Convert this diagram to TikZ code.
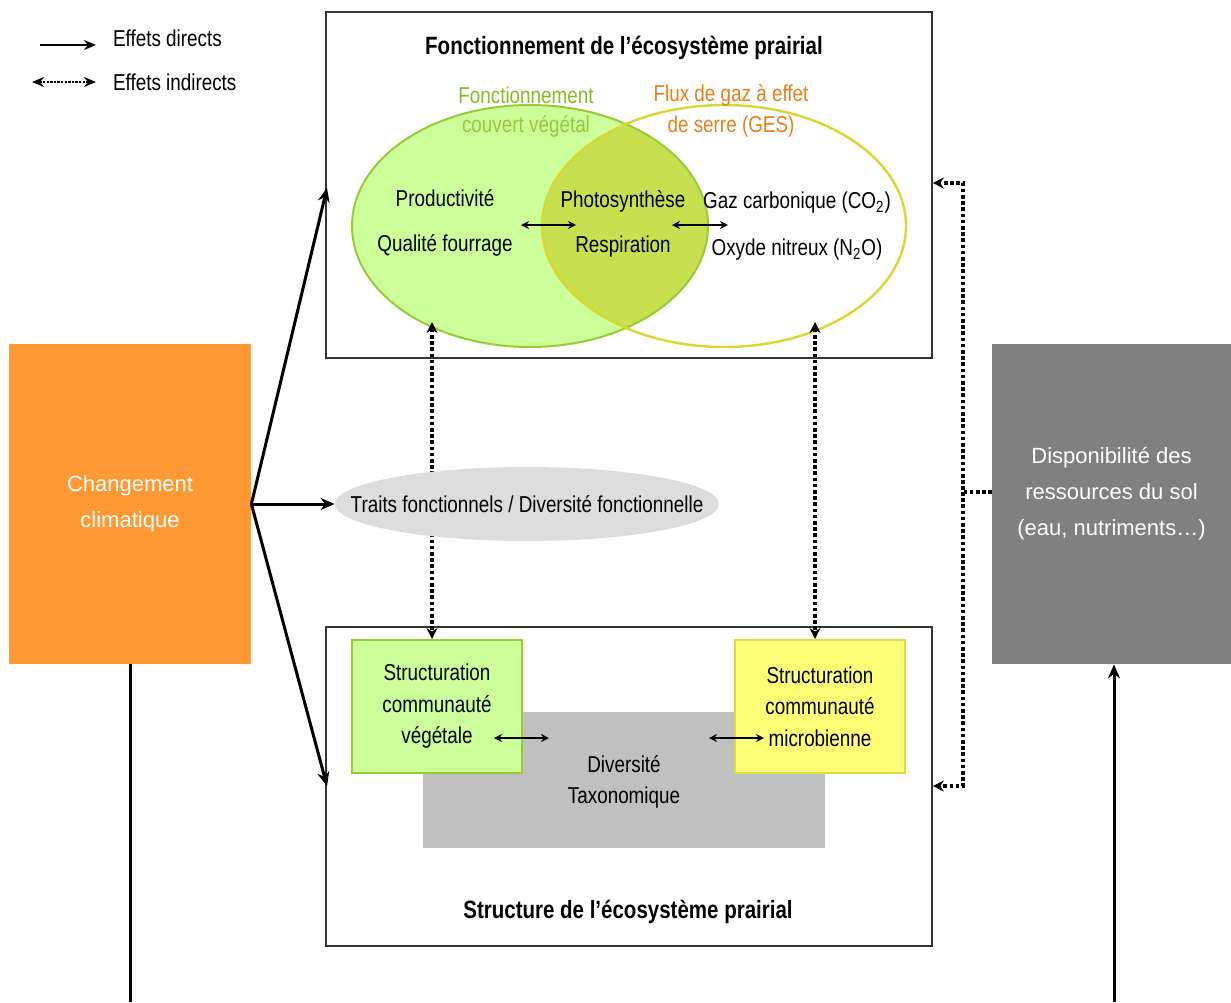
\documentclass[tikz,border=0pt]{standalone}
\usepackage{fontspec}
\setmainfont{Liberation Sans}[FakeStretch=0.82]
\newfontfamily\widefont{Liberation Sans}
\usepackage{xcolor}
\definecolor{climorange}{HTML}{FF9933}
\definecolor{solgrey}{HTML}{808080}
\definecolor{taxogrey}{HTML}{C0C0C0}
\definecolor{traitsgrey}{HTML}{DDDDDD}
\definecolor{vegfill}{HTML}{CCFF99}
\definecolor{vegline}{HTML}{99CC33}
\definecolor{microfill}{HTML}{FFFF77}
\definecolor{microline}{HTML}{DDDD44}
\definecolor{lens}{HTML}{C8E050}
\definecolor{gesline}{HTML}{D8D830}
\definecolor{vegtext}{HTML}{88BB22}
\definecolor{gestext}{HTML}{E8801A}
\usetikzlibrary{arrows.meta,positioning,shapes.geometric}

\begin{document}
\begin{tikzpicture}[
  x=0.5pt, y=-0.5pt, font=\fontsize{11.5}{15.75}\selectfont,
  directarr/.style={-{Stealth[length=7pt,width=6pt]}, line width=1.5pt},
  indirarr/.style={{Stealth[length=5.5pt,width=5.5pt]}-{Stealth[length=5.5pt,width=5.5pt]}, line width=1.6pt, dash pattern=on 1.8pt off 1.3pt},
  indirone/.style={-{Stealth[length=5.5pt,width=5.5pt]}, line width=1.6pt, dash pattern=on 1.8pt off 1.3pt},
  smallarr/.style={{Stealth[length=4pt,width=4pt]}-{Stealth[length=4pt,width=4pt]}, line width=0.8pt},
  frame/.style={draw=black!80, line width=0.8pt, minimum width=303pt},
  sidebox/.style={minimum height=160pt, align=center, text=white,
    font=\widefont\fontsize{11}{18}\selectfont},
  title/.style={font=\bfseries\fontsize{12.5}{15}\selectfont}
]
\useasboundingbox (0,0) rectangle (1231,1002);

% Legend
\coordinate (l1a) at (40,45);  \coordinate (l1b) at (96,45);
\coordinate (l2a) at (32,82);  \coordinate (l2b) at (96,82);
\draw[-{Stealth[length=6pt,width=5pt]}, line width=1pt] (l1a) -- (l1b);
\draw[{Stealth[length=6pt,width=5pt]}-{Stealth[length=6pt,width=5pt]}, line width=1.2pt, dash pattern=on 1.2pt off 0.6pt] (l2a) -- (l2b);
\node[anchor=west] (lgdir) at (106,38) {Effets directs};
\node[anchor=west] (lgind) at (106,82) {Effets indirects};

% Top frame: ecosystem functioning
\node[frame, minimum height=173pt] (fonct) at (629,185) {};
\node[title] (fonctitle) at (624,48) {Fonctionnement de l'écosystème prairial};

% Venn diagram
\fill[vegfill] (530,226) ellipse [x radius=178, y radius=121];
\begin{scope}
  \clip (530,226) ellipse [x radius=178, y radius=121];
  \fill[lens] (724,226) ellipse [x radius=182, y radius=121];
\end{scope}
\draw[vegline, line width=1pt] (530,226) ellipse [x radius=178, y radius=121];
\draw[gesline, line width=1.2pt] (724,226) ellipse [x radius=182, y radius=121];
\node[text=vegtext] (vegt1) at (526,95) {Fonctionnement};
\node[text=vegtext!85!white] (vegt2) at (526,126) {couvert végétal};
\node[text=gestext] (gest1) at (731,95) {Flux de gaz à effet};
\node[text=gestext] (gest2) at (731,127) {de serre (GES)};
\node (prod) at (445,198) {Productivité};
\node (qual) at (445,245) {Qualité fourrage};
\node (photo) at (623,201) {Photosynthèse};
\node (resp) at (623,247) {Respiration};
\node (co2) at (797,203) {Gaz carbonique (CO\textsubscript{2})};
\node (n2o) at (797,250) {Oxyde nitreux (N\textsubscript{2}O)};
\coordinate (va1) at (521,225); \coordinate (va2) at (576,225);
\coordinate (vb1) at (672,225); \coordinate (vb2) at (728,225);
\draw[smallarr] (va1) -- (va2);
\draw[smallarr] (vb1) -- (vb2);

% Bottom frame: ecosystem structure
\node[frame, minimum height=159.5pt] (struct) at (629,786.5) {};
\node[title] (structitle) at (628,912) {Structure de l'écosystème prairial};
\node[fill=taxogrey, minimum width=201pt, minimum height=68pt, align=center] (taxo) at (624,780) {};
\node[align=center] (taxot) at (624,782) {Diversité\\Taxonomique};
\node[fill=vegfill, draw=vegline, line width=1pt, minimum width=85pt, minimum height=66.5pt, align=center] (vegbox) at (437,706.5) {Structuration\\communauté\\végétale};
\node[fill=microfill, draw=microline, line width=1pt, minimum width=85pt, minimum height=66.5pt, align=center] (microbox) at (820,706.5) {Structuration\\communauté\\microbienne};
\coordinate (sa1) at (494,738); \coordinate (sa2) at (549,738);
\coordinate (sb1) at (709,738); \coordinate (sb2) at (764,738);
\draw[smallarr] (sa1) -- (sa2);
\draw[smallarr] (sb1) -- (sb2);

% Indirect links between structure and functioning
\coordinate (vegup) at (432,322);
\coordinate (gesup) at (815,322);
\draw[indirarr] (vegup) -- (vegbox.north -| vegup);
\draw[indirarr] (gesup) -- (microbox.north -| gesup);

% Functional traits
\node[ellipse, fill=traitsgrey, minimum width=192pt, minimum height=37pt, inner sep=0pt] (traits) at (527,504) {};
\node (traitst) at (527,504) {Traits fonctionnels / Diversité fonctionnelle};

% Climate change and soil resources
\node[sidebox, fill=climorange, minimum width=121pt] (clim) at (130,504) {Changement\\climatique};
\node[sidebox, fill=solgrey, minimum width=119.5pt] (sol) at (1111.5,504) {};
\node[align=center, text=white, font=\widefont\fontsize{11}{18}\selectfont] (solt) at (1111.5,494) {Disponibilité des\\ressources du sol\\(eau, nutriments…)};

% Direct effects of climate
\coordinate (fonctin) at (327,188);
\coordinate (structin) at (327,786);
\draw[directarr] (clim.east) -- (fonctin);
\draw[directarr] (clim.east) -- (traits.west);
\draw[directarr] (clim.east) -- (structin);

% Indirect effects of soil resources
\coordinate (junc) at (963,492);
\coordinate (soljoin) at (992,492);
\draw[indirone] (soljoin) -- (junc) |- (fonct.east |- 0,183);
\draw[indirone] (junc) |- (struct.east |- 0,786);

% Lines leaving the bottom edge
\coordinate (climfoot) at (130,1002);
\coordinate (solfoot) at (1114,1002);
\draw[line width=1.5pt] (clim.south) -- (climfoot);
\draw[directarr] (solfoot) -- (sol.south -| solfoot);

\end{tikzpicture}
\end{document}
